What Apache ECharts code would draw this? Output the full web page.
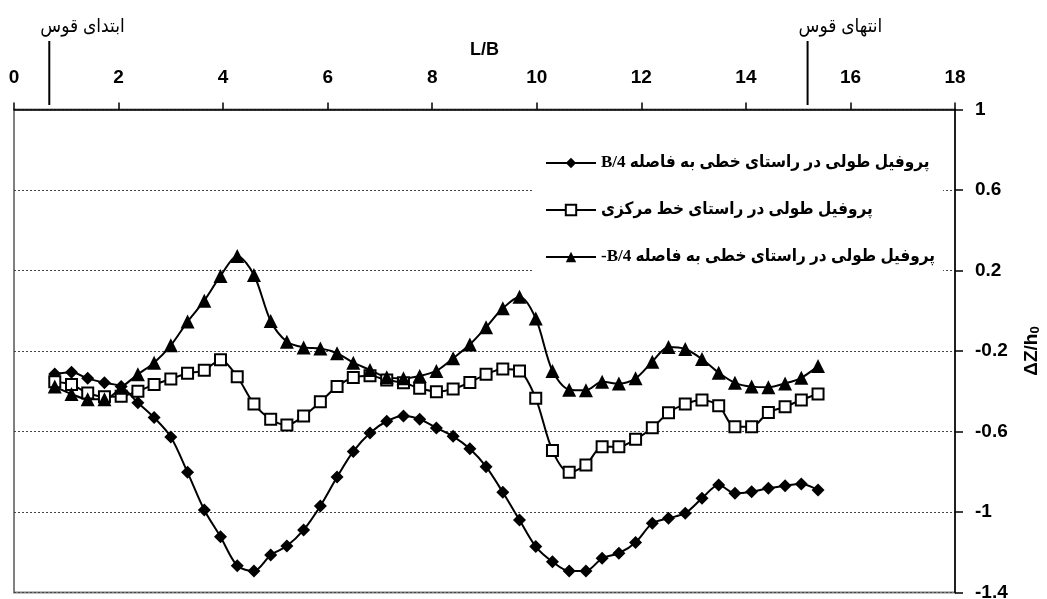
<!DOCTYPE html>
<html><head><meta charset="utf-8">
<script src="https://cdn.jsdelivr.net/npm/echarts@6/dist/echarts.min.js"></script>
<style>html,body{margin:0;padding:0;background:#fff}#c{width:1047px;height:599px}</style>
</head><body><div id="c"></div>
<script>
// L/B positions of measured points
const xValues = [0.78,1.10,1.41,1.73,2.05,2.37,2.68,3.00,3.32,3.64,3.95,4.27,4.59,4.91,5.22,5.54,5.86,6.18,6.49,6.81,7.13,7.45,7.76,8.08,8.40,8.72,9.03,9.35,9.67,9.98,10.30,10.62,10.94,11.25,11.57,11.89,12.21,12.52,12.84,13.16,13.48,13.79,14.11,14.43,14.75,15.06,15.38];
const seriesNames = [
  'B/4 پروفیل طولی در راستای خطی به فاصله',
  'پروفیل طولی در راستای خط مرکزی',
  '-B/4 پروفیل طولی در راستای خطی به فاصله'
];
const profileB4 = [-0.314,-0.306,-0.336,-0.358,-0.377,-0.457,-0.531,-0.627,-0.803,-0.990,-1.123,-1.267,-1.293,-1.214,-1.169,-1.089,-0.970,-0.826,-0.699,-0.607,-0.549,-0.523,-0.539,-0.582,-0.624,-0.686,-0.775,-0.902,-1.040,-1.172,-1.247,-1.293,-1.293,-1.230,-1.205,-1.151,-1.056,-1.031,-1.006,-0.932,-0.866,-0.907,-0.899,-0.882,-0.869,-0.861,-0.891];
const profileCenter = [-0.353,-0.367,-0.409,-0.427,-0.425,-0.400,-0.367,-0.339,-0.311,-0.296,-0.243,-0.328,-0.463,-0.539,-0.568,-0.523,-0.452,-0.377,-0.332,-0.323,-0.344,-0.358,-0.385,-0.402,-0.389,-0.356,-0.316,-0.289,-0.299,-0.435,-0.695,-0.803,-0.766,-0.676,-0.676,-0.639,-0.581,-0.507,-0.463,-0.443,-0.472,-0.576,-0.576,-0.505,-0.477,-0.443,-0.414];
const profileMinusB4 = [-0.377,-0.414,-0.440,-0.440,-0.382,-0.316,-0.258,-0.172,-0.054,0.050,0.173,0.272,0.178,-0.051,-0.154,-0.182,-0.187,-0.211,-0.258,-0.294,-0.331,-0.336,-0.324,-0.299,-0.236,-0.168,-0.082,0.012,0.070,-0.038,-0.299,-0.392,-0.395,-0.353,-0.362,-0.336,-0.253,-0.180,-0.190,-0.240,-0.308,-0.358,-0.377,-0.380,-0.361,-0.333,-0.275];
const yTicks = [-1.4,-1,-0.6,-0.2,0.2,0.6,1];
const arcMarks = [0.675, 15.18];
const arcLabels = ['ابتدای قوس','انتهای قوس'];

const chart = echarts.init(document.getElementById('c'), null, {renderer:'canvas'});
const pairs = arr => xValues.map((x,i)=>[x, arr[i]]);
const persianFont = "'Liberation Serif','DejaVu Sans Condensed','DejaVu Sans',serif";
const baseSeries = {type:'line', smooth:0.3, lineStyle:{color:'#000', width:2}, itemStyle:{color:'#000'}, emphasis:{disabled:true}, animation:false};

const option = {
  animation:false,
  grid:{left:14, right:92, top:109.5, bottom:6.5, show:true, borderColor:'#808080', borderWidth:2, containLabel:false, outerBoundsMode:'none'},
  legend:{
    orient:'vertical', left:533, top:142, padding:[10,8,10,12], itemGap:25,
    backgroundColor:'#fff', itemWidth:50, itemHeight:13,
    textStyle:{fontSize:17, fontWeight:'bold', fontFamily:persianFont, color:'#000', lineHeight:22},
    data:seriesNames
  },
  xAxis:{
    type:'value', position:'top', min:0, max:18, interval:2,
    name:'L/B', nameLocation:'middle', nameGap:50, nameMoveOverlap:false,
    nameTextStyle:{fontSize:18, fontWeight:'bold', fontFamily:'Arial, Liberation Sans', color:'#000'},
    axisLine:{show:true, onZero:false, lineStyle:{color:'#000', width:1.5}},
    axisTick:{show:true, inside:false, length:7, lineStyle:{color:'#000', width:1.5}},
    axisLabel:{fontSize:19, fontWeight:'bold', fontFamily:'Arial, Liberation Sans', color:'#000', margin:22, hideOverlap:false},
    splitLine:{show:false}
  },
  yAxis:{
    type:'value', position:'right', min:-1.4, max:1,
    axisLine:{show:true, onZero:false, lineStyle:{color:'#000', width:1.5}},
    axisTick:{show:true, inside:false, length:8, customValues:yTicks, lineStyle:{color:'#000', width:1.5}},
    axisLabel:{customValues:yTicks, fontSize:19, fontWeight:'bold', fontFamily:'Arial, Liberation Sans', color:'#000', margin:20, hideOverlap:false},
    splitLine:{show:true, lineStyle:{color:'#444', width:1, type:[2,2]}},
    name:'{a|ΔZ/h}{b|0}', nameLocation:'middle', nameRotate:90, nameGap:66, nameMoveOverlap:false,
    nameTextStyle:{color:'#000', rich:{
      a:{fontSize:19, fontWeight:'bold', fontFamily:'Arial, Liberation Sans', color:'#000'},
      b:{fontSize:13, fontWeight:'bold', fontFamily:'Arial, Liberation Sans', color:'#000', verticalAlign:'bottom', padding:[8,0,0,0]}
    }}
  },
  series:[
    Object.assign({}, baseSeries, {name:seriesNames[0], data:pairs(profileB4), symbol:'diamond', symbolSize:13}),
    Object.assign({}, baseSeries, {name:seriesNames[1], data:pairs(profileCenter), symbol:'rect', symbolSize:11,
      itemStyle:{color:'#fff', borderColor:'#000', borderWidth:2}}),
    Object.assign({}, baseSeries, {name:seriesNames[2], data:pairs(profileMinusB4), symbol:'triangle', symbolSize:14})
  ]
};
chart.setOption(option);

const gfx = [];
arcMarks.forEach((m,i)=>{
  const px = chart.convertToPixel({xAxisIndex:0}, m);
  gfx.push({type:'line', shape:{x1:px, y1:41, x2:px, y2:105}, style:{stroke:'#000', lineWidth:2}, silent:true});
  gfx.push({type:'text', x:px-9, y:27, silent:true, style:{text:arcLabels[i], fontSize:19, fontFamily:persianFont, fill:'#000', align:'left', verticalAlign:'middle'}});
});
chart.setOption({graphic:gfx});
</script>
</body></html>
